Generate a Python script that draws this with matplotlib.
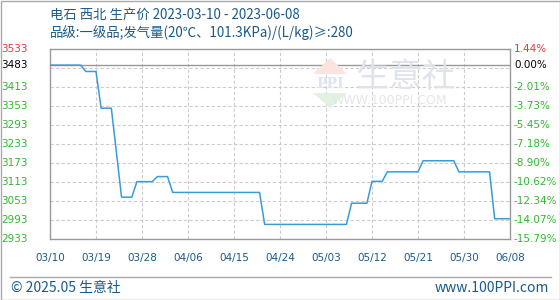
import numpy as np
import pandas as pd
import matplotlib
matplotlib.use("Agg")
import matplotlib.pyplot as plt
from matplotlib.patches import Polygon

plt.rcParams['font.family'] = ['Noto Sans CJK SC', 'DejaVu Sans']

# data
start = pd.Timestamp("2023-03-10")
day_offsets = [0, 6, 7, 9, 10, 12, 14, 16, 17, 20, 21, 23, 24, 41, 42,
               58, 59, 62, 63, 65, 66, 72, 73, 79, 80, 86, 87, 90]
prices = [3483, 3483, 3463, 3463, 3347, 3347, 3066, 3066, 3115, 3115, 3131, 3131, 3081, 3081, 2980,
          2980, 3047, 3047, 3116, 3116, 3146, 3146, 3181, 3181, 3146, 3146, 2998, 2998]
base = 3483
y_ticks = [3533, 3473, 3413, 3353, 3293, 3233, 3173, 3113, 3053, 2993, 2933]
left_labels = [3533, 3483, 3413, 3353, 3293, 3233, 3173, 3113, 3053, 2993, 2933]
right_labels = ["1.44%", "0.00%", "-2.01%", "-3.73%", "-5.45%", "-7.18%", "-8.90%",
                "-10.62%", "-12.34%", "-14.07%", "-15.79%"]
x_tick_days = list(range(0, 91, 9))

dates = [start + pd.Timedelta(days=d) for d in day_offsets]
xt = [start + pd.Timedelta(days=d) for d in x_tick_days]

fig = plt.figure(figsize=(5.6, 3.0), dpi=100)
ax = fig.add_axes([50/560, 1-239.3/300, 460/560, 190/300])

ax.set_xlim(start, start + pd.Timedelta(days=90))
ax.set_ylim(2933, 3533)

# grid
for y in y_ticks[1:-1]:
    ax.axhline(y, color="#cccccc", lw=0.8, ls=(0, (3, 2)), zorder=1)
for d in xt[1:-1]:
    ax.axvline(d, color="#cccccc", lw=0.8, ls=(0, (3, 2)), zorder=1)
ax.axhline(base, color="#999999", lw=1.0, zorder=2)

ax.plot(dates, prices, color="#3a9bd9", lw=1.1, zorder=3)

for s in ax.spines.values():
    s.set_color("#999999")
    s.set_linewidth(1.0)

ax.set_yticks([])
ax.set_xticks(xt)
ax.set_xticklabels([d.strftime("%m/%d") for d in xt], fontsize=7.5, color="#1a5a8a",
                   family="DejaVu Sans")
ax.tick_params(axis="x", length=0, pad=10)

# side labels
for v, r in zip(left_labels, right_labels):
    c = "#e8383d" if v == 3533 else ("#000000" if v == base else "#2eb82e")
    ax.text(-22/460, (v-2933)/600, str(v), transform=ax.transAxes, ha="right", va="center",
            fontsize=7.5, color=c, family="DejaVu Sans")
    ax.text(1 + 4/460, (v-2933)/600, r, transform=ax.transAxes, ha="left",
            va="center", fontsize=7.5, color=c, family="DejaVu Sans")

# watermark
fig.text(355/560, 1-78/300, "生意社", fontsize=24, color="#dfe4ec", ha="left", va="center", zorder=0)
fig.text(332/560, 1-101/300, "WWW.100PPI.COM", fontsize=9, color="#e6e6e6", ha="left", va="center",
         family="DejaVu Sans", zorder=0)
fig.patches.append(Polygon([[313/560, 1-74/300], [330/560, 1-58/300], [347/560, 1-74/300]],
                           closed=True, transform=fig.transFigure, fc="#fbe3e0", ec="none", zorder=0))
fig.patches.append(Polygon([[313/560, 1-93/300], [330/560, 1-108/300], [347/560, 1-93/300]],
                           closed=True, transform=fig.transFigure, fc="#e2f2e2", ec="none", zorder=0))
fig.text(330/560, 1-84/300, "PPI", fontsize=10, color="#dfe4ef", ha="center", va="center",
         family="DejaVu Serif", weight="bold", zorder=0)

# titles
fig.text(50/560, 1-15/300, "电石 西北 生产价 2023-03-10 - 2023-06-08", fontsize=9.6, color="#1a5a8a",
         ha="left", va="center")
fig.text(50/560, 1-33/300, "品级:一级品;发气量(20℃、101.3KPa)/(L/kg)≥:280", fontsize=9.6,
         color="#1a5a8a", ha="left", va="center")

# footer
fig.add_artist(plt.Line2D([10/560, 551/560], [1-277/300, 1-277/300], color="#aaaaaa", lw=1.0,
                          transform=fig.transFigure))
fig.text(11/560, 1-288/300, "© 2025.05 生意社", fontsize=10, color="#1a5a8a", ha="left", va="center")
fig.text(549/560, 1-288/300, "www.100PPI.com", fontsize=10, color="#1a5a8a", ha="right", va="center")

# outer frame
fig.add_artist(plt.Rectangle((0.5/560, 0.5/300), 559/560, 299/300, fill=False, ec="#aaaaaa", lw=1.0,
                             transform=fig.transFigure))

fig.savefig("out.png", dpi=100)
